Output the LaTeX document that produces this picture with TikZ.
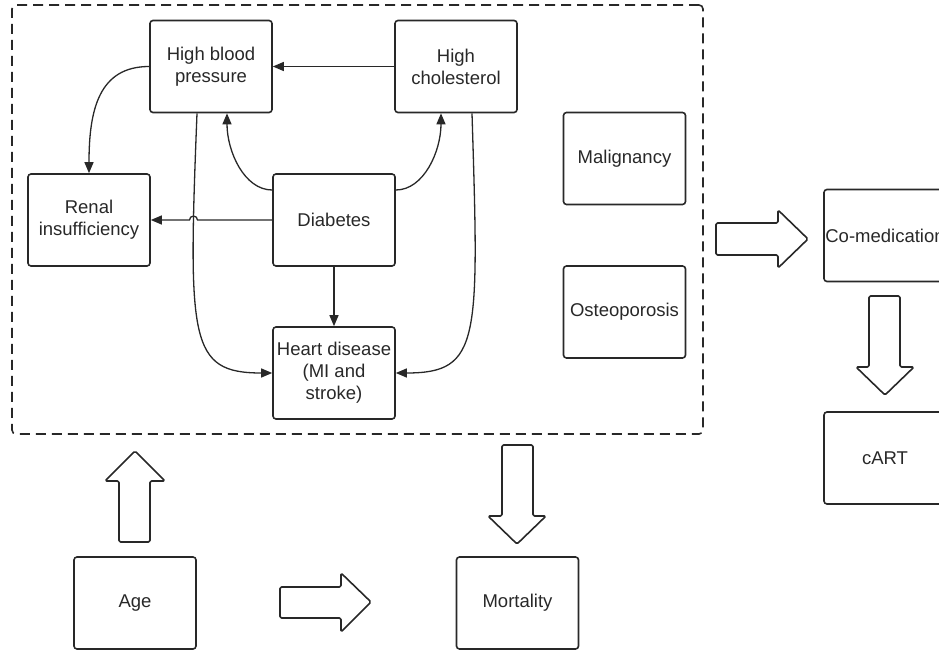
\documentclass[tikz,border=0pt]{standalone}
\usepackage{fontspec}
\setmainfont{Liberation Sans}
\usetikzlibrary{arrows.meta,calc}
\definecolor{ink}{RGB}{40,40,40}
\begin{document}
\begin{tikzpicture}[x=1pt,y=-1pt,
  box/.style={draw=ink, line width=1.6pt, rounded corners=3pt, minimum width=122pt,
    minimum height=92pt, align=center, text=ink, inner sep=0pt,
    font=\fontsize{18.5}{22}\selectfont},
  grpbox/.style={draw=ink, line width=1.6pt, dash pattern=on 10pt off 6pt,
    rounded corners=4pt, minimum width=691pt, minimum height=429pt, inner sep=0pt},
  conn/.style={draw=ink, line width=1.3pt, -{Triangle[length=11pt,width=9pt]}},
  barrow/.style={draw=ink, line width=1.6pt, rounded corners=1.5pt, line join=round}]
\useasboundingbox (0,0) rectangle (939,652);
\clip (0,0) rectangle (939,652);

% group frame
\node[grpbox] (grp) at (357.5,219.5) {};

% boxes
\node[box] (hbp)   at (211,66.5)  {High blood\\pressure};
\node[box] (hc)    at (456,66.5)  {High\\cholesterol};
\node[box] (renal) at (89,220)    {Renal\\insufficiency};
\node[box] (diab)  at (334,220)   {Diabetes};
\node[box] (heart) at (334,373)   {Heart disease\\(MI and\\stroke)};
\node[box] (malig) at (624.5,158.5) {Malignancy};
\node[box] (osteo) at (624.5,312) {Osteoporosis};
\node[box] (comed) at (885,235.5) {Co-medication};
\node[box] (cart)  at (885,458)   {cART};
\node[box] (age)   at (135,603)   {Age};
\node[box] (mort)  at (517.5,603) {Mortality};

% connectors
\draw[conn] (hc.west) -- (hbp.east);
\draw[conn] (hbp.west) .. controls +(-50,0) and +(0,-64) .. (renal.north);
\draw[conn] ([yshift=30pt]diab.west) .. controls +(-28,0) and +(0,38) .. ([xshift=16pt]hbp.south);
\draw[conn] ([yshift=30pt]diab.east) .. controls +(28,0) and +(0,38) .. ([xshift=-15pt]hc.south);
\coordinate (hop) at (197.5,220);
\draw[conn] (diab.west) -- (hop) arc[start angle=0,end angle=-180,radius=4] -- (renal.east);
\draw[conn] ([xshift=-14pt]hbp.south) .. controls +(-9,228) and +(-83,0) .. (heart.west);
\draw[conn] ([xshift=16pt]hc.south) .. controls +(7,227) and +(85,0) .. (heart.east);
\draw[conn] (diab.south) -- (heart.north);

% block arrows
\draw[barrow] (119,542) -- (119,481) -- (105,481) -- (135,451) -- (165,481) -- (150,481) -- (150,542) -- cycle;
\draw[barrow] (502,445) -- (533,445) -- (533,516) -- (546,516) -- (517,544) -- (488,516) -- (502,516) -- cycle;
\draw[barrow] (280,587) -- (341,587) -- (341,573) -- (371,602) -- (341,632) -- (341,618) -- (280,618) -- cycle;
\draw[barrow] (716,223) -- (778,223) -- (778,210) -- (808,239) -- (778,268) -- (778,255) -- (716,255) -- cycle;
\draw[barrow] (869,296) -- (900,296) -- (900,367) -- (914,367) -- (885,395) -- (856,367) -- (869,367) -- cycle;
\end{tikzpicture}
\end{document}
